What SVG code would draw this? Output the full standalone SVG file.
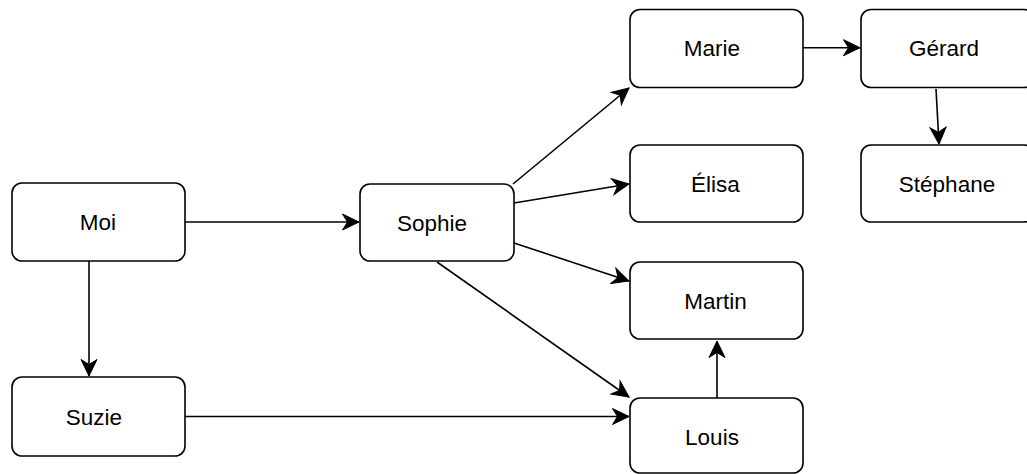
<svg xmlns="http://www.w3.org/2000/svg" width="1027" height="474" viewBox="0 0 1027 474">
<style>
.box{fill:#fff;stroke:#000;stroke-width:1.6}
.lbl{font-family:"Liberation Sans",Arial,sans-serif;font-size:22.5px;fill:#000;text-anchor:middle}
.edge{fill:none;stroke:#000;stroke-width:1.6;marker-end:url(#arr)}
</style>
<defs>
<marker id="arr" markerUnits="userSpaceOnUse" viewBox="-18 -9 19 18" refX="0" refY="0" markerWidth="19" markerHeight="18" orient="auto">
<path d="M0,0 L-16.5,-8 L-11.5,0 L-16.5,8 Z" fill="#000" stroke="#000" stroke-width="1"/>
</marker>
</defs>
<rect width="1027" height="474" fill="#fff"/>
<g id="connectors">
<path class="edge" d="M185,222 L359,222"/>
<path class="edge" d="M89,261 L89,376"/>
<path class="edge" d="M185,416.5 L629,416.5"/>
<path class="edge" d="M513,184 L629,88"/>
<path class="edge" d="M514,203 L629,184"/>
<path class="edge" d="M514,243 L629,281"/>
<path class="edge" d="M437,262 L629,397"/>
<path class="edge" d="M717,398 L717,341"/>
<path class="edge" d="M803,47.7 L860,47.7"/>
<path class="edge" d="M936,89 L939,144"/>
</g>
<g id="moi"><rect class="box" x="12" y="183" width="173" height="78" rx="10"/><text class="lbl" x="98" y="230">Moi</text></g>
<g id="suzie"><rect class="box" x="12" y="377" width="173" height="79" rx="10"/><text class="lbl" x="94" y="424.5">Suzie</text></g>
<g id="sophie"><rect class="box" x="360" y="184" width="154" height="77" rx="10"/><text class="lbl" x="432" y="230.5">Sophie</text></g>
<g id="marie"><rect class="box" x="630" y="9.5" width="173" height="78" rx="10"/><text class="lbl" x="712" y="56">Marie</text></g>
<g id="gerard"><rect class="box" x="861" y="9.5" width="173" height="78" rx="10"/><text class="lbl" x="944" y="56">Gérard</text></g>
<g id="elisa"><rect class="box" x="630" y="145" width="173" height="77" rx="10"/><text class="lbl" x="715.5" y="191.5">Élisa</text></g>
<g id="stephane"><rect class="box" x="861" y="145" width="173" height="77" rx="10"/><text class="lbl" x="947" y="191.5">Stéphane</text></g>
<g id="martin"><rect class="box" x="630" y="262" width="173" height="77" rx="10"/><text class="lbl" x="715.5" y="308.5">Martin</text></g>
<g id="louis"><rect class="box" x="630" y="398" width="173" height="75" rx="10"/><text class="lbl" x="712" y="444.5">Louis</text></g>
</svg>
